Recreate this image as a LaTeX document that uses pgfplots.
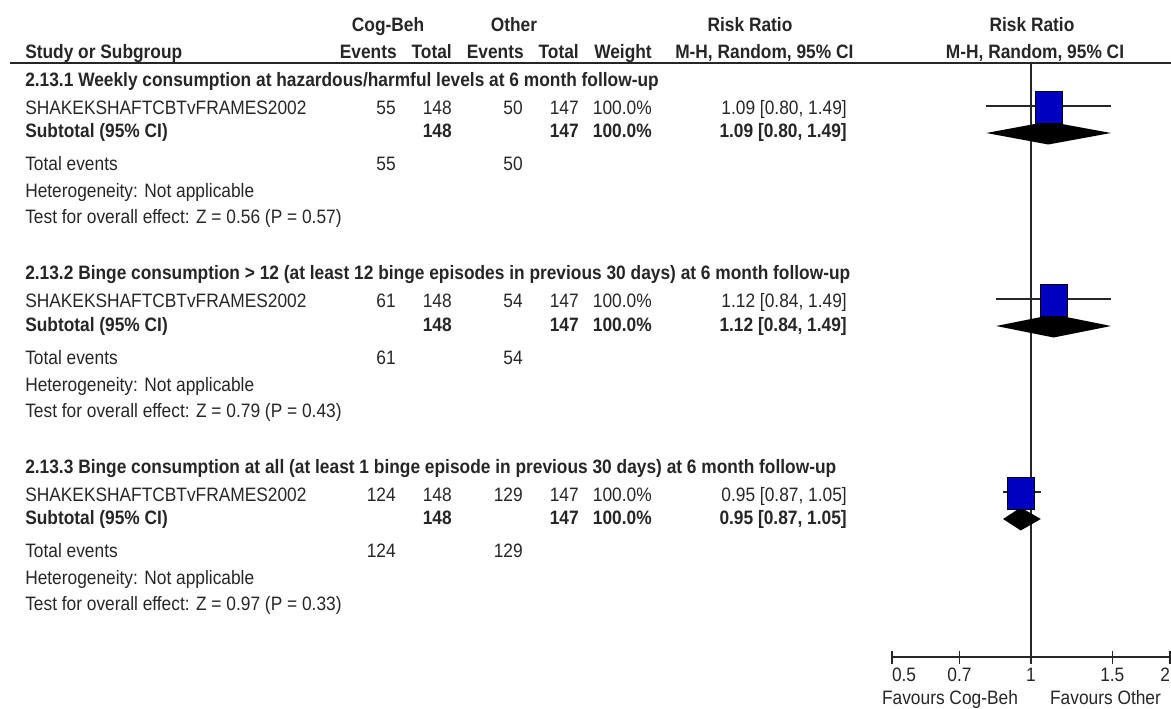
\documentclass[border=0pt]{standalone}
\usepackage{fontspec}
\setmainfont{Liberation Sans}
\usepackage{graphicx}
\usepackage{pgfplots}
\pgfplotsset{compat=1.18}
\definecolor{txt}{HTML}{262626}
\definecolor{sq}{HTML}{0000C0}
\newcommand\st[1]{\scalebox{1}[1.12]{#1}}
\newcommand\TL[3]{\node[anchor=base west,inner sep=0pt] at (#1,{#2+7}) {\st{#3}};}
\newcommand\TR[3]{\node[anchor=base east,inner sep=0pt] at (#1,{#2+7}) {\st{#3}};}
\newcommand\TC[3]{\node[anchor=base,inner sep=0pt] at (#1,{#2+7}) {\st{#3}};}
% #1 title row y, #2 title, #3 cog events, #4 other events, #5 RR text, #6 test
\newcommand\grp[6]{%
  \TL{25}{#1}{\bfseries #2}
  \TL{25}{#1+28}{SHAKEKSHAFTCBTvFRAMES2002}
  \TR{396}{#1+28}{#3}\TR{452}{#1+28}{148}\TR{523}{#1+28}{#4}\TR{579}{#1+28}{147}
  \TR{652}{#1+28}{100.0\%}\TR{847}{#1+28}{#5}
  \TL{25}{#1+51}{\bfseries Subtotal (95\% CI)}
  \TR{452}{#1+51}{\bfseries 148}\TR{579}{#1+51}{\bfseries 147}
  \TR{652}{#1+51}{\bfseries 100.0\%}\TR{847}{#1+51}{\bfseries #5}
  \TL{25}{#1+84}{Total events}\TR{396}{#1+84}{#3}\TR{523}{#1+84}{#4}
  \TL{25}{#1+111}{Heterogeneity: Not applicable}
  \TL{25}{#1+137}{Test for overall effect: #6}
}
\begin{document}
\begin{tikzpicture}[font=\fontsize{13}{15}\selectfont, text=txt]
\begin{scope}[x=0.75pt,y=-0.75pt]
\useasboundingbox (0,0) rectangle (1171,709);
% header
\TC{388}{25}{\bfseries Cog-Beh}
\TC{514}{25}{\bfseries Other}
\TC{750}{25}{\bfseries Risk Ratio}
\TC{1032}{25}{\bfseries Risk Ratio}
\TL{25}{52}{\bfseries Study or Subgroup}
\TR{397}{52}{\bfseries Events}
\TR{452}{52}{\bfseries Total}
\TR{524}{52}{\bfseries Events}
\TR{579}{52}{\bfseries Total}
\TR{652}{52}{\bfseries Weight}
\TL{675}{52}{\bfseries M-H, Random, 95\% CI}
\TC{1035}{52}{\bfseries M-H, Random, 95\% CI}
\draw[line width=1.5pt, draw=txt] (10,63) -- (1171,63);
\grp{80}{2.13.1 Weekly consumption at hazardous/harmful levels at 6 month follow-up}{55}{50}{1.09 [0.80, 1.49]}{Z = 0.56 (P = 0.57)}
\grp{273}{2.13.2 Binge consumption > 12 (at least 12 binge episodes in previous 30 days) at 6 month follow-up}{61}{54}{1.12 [0.84, 1.49]}{Z = 0.79 (P = 0.43)}
\grp{466}{2.13.3 Binge consumption at all (at least 1 binge episode in previous 30 days) at 6 month follow-up}{124}{129}{0.95 [0.87, 1.05]}{Z = 0.97 (P = 0.33)}
\TC{950}{697}{Favours Cog-Beh}
\TC{1105.5}{697}{Favours Other}
\end{scope}
\begin{axis}[
  at={(669pt,-492.75pt)}, anchor=south west, scale only axis,
  width=208.5pt, height=445.5pt,
  xmode=log, xmin=0.5, xmax=2, ymin=-657, ymax=-63,
  axis x line*=bottom, axis y line=none,
  xtick={0.5,0.7,1,1.5,2}, minor xtick={},
  xticklabels={\makebox[0pt][l]{\st{0.5}},\st{0.7},\st{1},\st{1.5},\makebox[0pt][r]{\st{2}}},
  tick align=center, major tick length=9.75pt,
  axis line style={line width=1pt, draw=txt},
  xtick style={line width=1pt, draw=txt},
  xticklabel style={font=\fontsize{13}{15}\selectfont, text=txt, anchor=base, yshift=-13.5pt, inner sep=0pt},
  clip=false,
]
\addplot[draw=txt, line width=1pt] coordinates {(1,-63) (1,-657)};
% group 1
\addplot[draw=txt, line width=1pt] coordinates {(0.80,-106) (1.49,-106)};
\addplot[only marks, mark=square*, mark size=10.125pt, mark options={fill=sq, draw=none, yscale=1.185}] coordinates {(1.09,-107)};
\addplot[fill=black, draw=none] coordinates {(0.80,-133) (1.09,-121.5) (1.49,-133) (1.09,-144.5)} -- cycle;
% group 2
\addplot[draw=txt, line width=1pt] coordinates {(0.84,-299) (1.49,-299)};
\addplot[only marks, mark=square*, mark size=10.125pt, mark options={fill=sq, draw=none, yscale=1.185}] coordinates {(1.12,-300)};
\addplot[fill=black, draw=none] coordinates {(0.84,-326) (1.12,-314.5) (1.49,-326) (1.12,-337.5)} -- cycle;
% group 3
\addplot[draw=txt, line width=1pt] coordinates {(0.87,-492) (1.05,-492)};
\addplot[only marks, mark=square*, mark size=10.125pt, mark options={fill=sq, draw=none, yscale=1.185}] coordinates {(0.95,-493)};
\addplot[fill=black, draw=none] coordinates {(0.87,-519) (0.95,-507.5) (1.05,-519) (0.95,-530.5)} -- cycle;
\end{axis}
\end{tikzpicture}
\end{document}
